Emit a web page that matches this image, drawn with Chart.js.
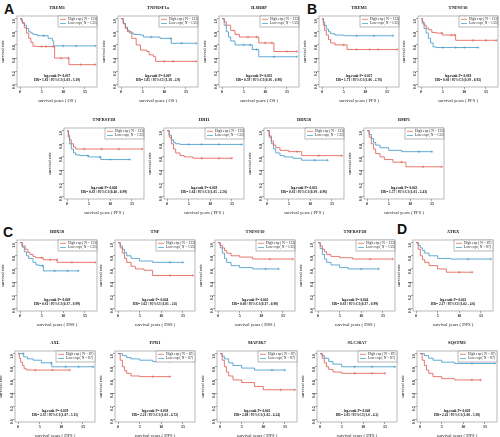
<!DOCTYPE html>
<html>
<head>
<meta charset="utf-8">
<script src="https://cdn.jsdelivr.net/npm/chart.js@4.4.1/dist/chart.umd.min.js"></script>
<style>
  body { margin: 0; background: #fff; width: 500px; height: 437px; position: relative; overflow: hidden; font-family: "Liberation Sans", Arial, sans-serif; }
  .tag { position: absolute; font-weight: bold; font-size: 14px; line-height: 1; color: #111; }
  canvas { position: absolute; }
</style>
</head>
<body>
<div class="tag" style="left:4px;top:2px">A</div>
<div class="tag" style="left:307px;top:2px">B</div>
<div class="tag" style="left:3px;top:225px">C</div>
<div class="tag" style="left:397px;top:222px">D</div>
<div id="wrap"></div>
<script>
// ---- data: [years, survival] steps (a repeated survival value = censored case)
const xTicks = [0, 5, 10, 15];
const yTicks = [0, 0.2, 0.4, 0.6, 0.8, 1.0];

// A (OS)
const trem1OsHigh = [[0,1],[0.5,0.93],[1,0.86],[1.5,0.78],[2,0.7],[2.5,0.64],[3,0.58],[4,0.575],[5,0.575],[6,0.575],[7.7,0.575],[8,0.4],[9.5,0.4],[11.2,0.4],[11.3,0.3],[14,0.3],[17.4,0.3]];
const trem1OsLow = [[0,1],[0.3,0.97],[0.6,0.94],[1,0.9],[1.5,0.85],[2,0.8],[2.5,0.78],[3,0.76],[4,0.74],[5.5,0.74],[6.5,0.7],[7.5,0.66],[7.8,0.585],[10,0.585],[13,0.585],[17.4,0.585]];
const tnfrsf1aOsHigh = [[0,1],[0.5,0.92],[1,0.85],[1.5,0.8],[2.5,0.7],[3.5,0.6],[4.5,0.52],[6,0.5],[6.5,0.45],[7.5,0.42],[8,0.35],[10,0.35],[12,0.35],[17.4,0.35]];
const tnfrsf1aOsLow = [[0,1],[0.5,0.93],[1,0.87],[1.5,0.82],[2,0.78],[3,0.76],[4.5,0.75],[5.2,0.72],[7,0.72],[9,0.7],[11.5,0.7],[11.6,0.625],[14,0.625],[17.4,0.625]];
const il6rbpOsHigh = [[0,1],[0.5,0.95],[1,0.9],[2,0.82],[3,0.76],[4,0.72],[6,0.72],[8,0.72],[8.5,0.63],[10,0.63],[11.5,0.63],[12,0.5],[15,0.5],[17.3,0.5]];
const il6rbpOsLow = [[0,1],[0.5,0.9],[1,0.8],[1.5,0.72],[2,0.66],[3,0.6],[5,0.6],[6.5,0.6],[7,0.53],[8,0.53],[8.5,0.42],[12,0.42],[17.3,0.42]];

// B (PFS)
const trem1PfsHigh = [[0,1],[0.3,0.9],[0.6,0.82],[1,0.75],[1.5,0.68],[2,0.63],[3,0.6],[5,0.6],[5.8,0.53],[8,0.53],[11,0.53],[13,0.53],[17.4,0.53]];
const trem1PfsLow = [[0,1],[0.3,0.95],[0.6,0.9],[1,0.84],[1.5,0.8],[2,0.77],[3,0.75],[5,0.74],[8,0.74],[12,0.74],[16.4,0.74]];
const tnfsf10PfsHigh = [[0,1],[0.3,0.95],[0.7,0.9],[1.2,0.86],[1.7,0.83],[2.5,0.79],[3.5,0.78],[4.8,0.78],[5,0.75],[7,0.75],[7.8,0.75],[8,0.67],[12,0.67],[15,0.67],[17.4,0.67]];
const tnfsf10PfsLow = [[0,1],[0.3,0.93],[0.7,0.85],[1.2,0.78],[1.7,0.7],[2.2,0.63],[2.8,0.57],[3.5,0.56],[5,0.56],[8,0.56],[10,0.56],[13.2,0.56]];
const tnfrsf1bPfsHigh = [[0,1],[0.3,0.93],[0.6,0.86],[1,0.8],[1.5,0.75],[2,0.72],[4,0.72],[8,0.72],[12,0.72],[17.4,0.72]];
const tnfrsf1bPfsLow = [[0,1],[0.3,0.9],[0.6,0.8],[1,0.72],[1.5,0.66],[2,0.63],[3,0.62],[4.8,0.62],[5,0.6],[7.6,0.6],[7.8,0.56],[10,0.56],[14.5,0.56]];
const idh1PfsHigh = [[0,1],[0.5,0.9],[1,0.8],[1.5,0.72],[2,0.66],[3,0.62],[4,0.6],[6,0.58],[8,0.58],[12,0.58],[15,0.58]];
const idh1PfsLow = [[0,1],[0.5,0.93],[1,0.86],[1.5,0.82],[2,0.8],[3,0.79],[5,0.79],[8,0.79],[12,0.79],[17.3,0.79]];
const ddx58PfsHigh = [[0,1],[0.5,0.92],[1,0.84],[1.5,0.78],[2,0.74],[3,0.7],[5,0.68],[7,0.68],[8,0.62],[12,0.62],[17.3,0.62]];
const ddx58PfsLow = [[0,1],[0.5,0.9],[1,0.8],[1.5,0.72],[2,0.66],[3,0.62],[4,0.6],[6,0.58],[8,0.55],[11,0.55],[14,0.55]];
const bmp1PfsHigh = [[0,1],[0.5,0.9],[1,0.8],[1.5,0.72],[2,0.65],[3,0.6],[4,0.56],[6,0.52],[8,0.52],[9,0.45],[13,0.45],[17.3,0.45]];
const bmp1PfsLow = [[0,1],[0.5,0.94],[1,0.88],[1.5,0.82],[2,0.78],[3,0.74],[5,0.7],[8,0.68],[12,0.68],[15,0.68]];

// C (DSS)
const ddx58DssHigh = [[0,1],[0.5,0.95],[1.2,0.9],[1.8,0.85],[2.3,0.82],[3,0.79],[3.5,0.77],[5,0.77],[5.4,0.74],[7,0.74],[8.5,0.74],[8.6,0.7],[12,0.7],[17.4,0.7]];
const ddx58DssLow = [[0,1],[0.5,0.93],[1,0.86],[1.5,0.8],[2,0.76],[3,0.7],[3.7,0.66],[4.5,0.65],[5.2,0.65],[5.4,0.57],[8,0.57],[11,0.57],[13.5,0.57]];
const tnfDssHigh = [[0,1],[0.5,0.92],[1,0.84],[1.5,0.76],[2,0.7],[3,0.64],[4,0.6],[6,0.58],[8,0.5],[12,0.5],[17.3,0.5]];
const tnfDssLow = [[0,1],[0.5,0.95],[1,0.9],[1.5,0.85],[2,0.8],[3,0.76],[5,0.72],[8,0.7],[12,0.7],[15,0.7]];
const tnfsf10DssHigh = [[0,1],[0.5,0.96],[1,0.92],[1.5,0.88],[2,0.84],[3,0.8],[5,0.78],[8,0.75],[12,0.75],[17.3,0.75]];
const tnfsf10DssLow = [[0,1],[0.5,0.92],[1,0.84],[1.5,0.76],[2,0.7],[3,0.65],[5,0.62],[8,0.6],[11,0.6],[14,0.6]];
const tnfrsf1bDssHigh = [[0,1],[0.5,0.95],[1,0.9],[1.5,0.86],[2,0.82],[3,0.79],[5,0.77],[8,0.75],[12,0.75],[17.3,0.75]];
const tnfrsf1bDssLow = [[0,1],[0.5,0.91],[1,0.82],[1.5,0.75],[2,0.7],[3,0.66],[5,0.62],[7,0.6],[10,0.6],[14,0.6]];

// D (DFS)
const atrxDfsHigh = [[0,1],[0.5,0.9],[1,0.8],[1.5,0.74],[2,0.7],[3,0.65],[5,0.6],[7,0.55],[10,0.55],[13,0.55]];
const atrxDfsLow = [[0,1],[0.5,0.96],[1,0.92],[1.5,0.88],[2,0.84],[3,0.8],[5,0.76],[8,0.75],[12,0.75],[17.3,0.75]];
const axlDfsHigh = [[0,1],[0.3,0.93],[0.6,0.87],[1,0.82],[1.4,0.77],[2,0.75],[4,0.75],[8,0.75],[12,0.75]];
const axlDfsLow = [[0,1],[1.2,1],[1.3,0.95],[2.2,0.92],[3.5,0.9],[5.4,0.86],[7.7,0.86],[7.8,0.8],[11,0.8],[14,0.8],[17.4,0.8]];
const fpr1DfsHigh = [[0,1],[0.5,0.9],[1,0.8],[1.5,0.74],[2,0.7],[3,0.66],[5,0.65],[8,0.65],[12,0.65]];
const fpr1DfsLow = [[0,1],[1,0.97],[2,0.94],[3,0.92],[5,0.9],[8,0.88],[12,0.88],[17.3,0.88]];
const map3k7DfsHigh = [[0,1],[0.5,0.9],[1,0.8],[1.5,0.72],[2,0.66],[3,0.6],[5,0.56],[8,0.5],[10,0.45],[14,0.45],[17.3,0.45]];
const map3k7DfsLow = [[0,1],[0.5,0.96],[1,0.92],[2,0.86],[3,0.82],[5,0.78],[8,0.75],[12,0.75],[15,0.75]];
const slc38a7DfsHigh = [[0,1],[0.5,0.93],[1,0.86],[1.5,0.8],[2,0.76],[3,0.72],[5,0.7],[8,0.7],[12,0.7],[15,0.7]];
const slc38a7DfsLow = [[0,1],[0.5,0.97],[1,0.93],[2,0.88],[3,0.84],[5,0.8],[8,0.8],[12,0.8],[17.3,0.8]];
const sqstm1DfsHigh = [[0,1],[0.5,0.9],[1,0.82],[1.5,0.75],[2,0.7],[3,0.65],[5,0.62],[8,0.6],[12,0.6],[14,0.6]];
const sqstm1DfsLow = [[0,1],[1,0.97],[2,0.93],[3,0.9],[5,0.87],[8,0.85],[12,0.85],[17.3,0.85]];

const genes = ['TREM1','TNFRSF1a','IL6RBP','TREM1','TNFSF10',
  'TNFRSF1B','IDH1','DDX58','BMP1',
  'DDX58','TNF','TNFSF10','TNFRSF1B','ATRX',
  'AXL','FPR1','MAP3K7','SLC38A7','SQSTM1'];
const endpoints = ['OS','OS','OS','PFS','PFS','PFS','PFS','PFS','PFS',
  'DSS','DSS','DSS','DSS','DFS','DFS','DFS','DFS','DFS','DFS'];
const groupN = [133,133,133,133,133,133,133,133,133,133,133,133,133,87,87,87,87,87,87];
const highSeries = [trem1OsHigh,tnfrsf1aOsHigh,il6rbpOsHigh,trem1PfsHigh,tnfsf10PfsHigh,
  tnfrsf1bPfsHigh,idh1PfsHigh,ddx58PfsHigh,bmp1PfsHigh,
  ddx58DssHigh,tnfDssHigh,tnfsf10DssHigh,tnfrsf1bDssHigh,atrxDfsHigh,
  axlDfsHigh,fpr1DfsHigh,map3k7DfsHigh,slc38a7DfsHigh,sqstm1DfsHigh];
const lowSeries = [trem1OsLow,tnfrsf1aOsLow,il6rbpOsLow,trem1PfsLow,tnfsf10PfsLow,
  tnfrsf1bPfsLow,idh1PfsLow,ddx58PfsLow,bmp1PfsLow,
  ddx58DssLow,tnfDssLow,tnfsf10DssLow,tnfrsf1bDssLow,atrxDfsLow,
  axlDfsLow,fpr1DfsLow,map3k7DfsLow,slc38a7DfsLow,sqstm1DfsLow];
const pValues = ['0.037','0.007','0.032','0.027','0.018','0.040','0.028','0.032','0.043',
  '0.049','0.044','0.041','0.044','0.041','0.029','0.038','0.041','0.048','0.028'];
const hrTexts = ['1.81 / 95%CI (1.03 - 3.19)','1.85 / 95%CI (1.18 - 2.9)','0.59 / 95%CI (0.36 - 0.98)',
  '1.71 / 95%CI (1.06 - 2.76)','0.60 / 95%CI (0.39 - 0.92)',
  '0.63 / 95%CI (0.40 - 0.99)','1.64 / 95%CI (1.05 - 2.56)','0.61 / 95%CI (0.39 - 0.96)','1.57 / 95%CI (1.01 - 2.43)',
  '0.61 / 95%CI (0.37 - 0.99)','1.62 / 95%CI (1.01 - 2.6)','0.60 / 95%CI (0.37 - 0.98)','0.61 / 95%CI (0.37 - 0.99)','2.17 / 95%CI (1.02 - 4.6)',
  '2.35 / 95%CI (1.07 - 5.15)','2.21 / 95%CI (1.03 - 4.72)','2.08 / 95%CI (1.02 - 4.24)','2.05 / 95%CI (1.0 - 4.2)','2.41 / 95%CI (1.08 - 5.38)'];

// ---- layout (plot box top-left of each panel, px)
const plotW = 80, plotH = 71;
const panelPos = [[17,16],[118,16],[219,16],[319,16],[418,16],
  [64,128],[164,128],[264,128],[364,128],
  [17,240],[115,240],[215,240],[315,240],[413,240],
  [15,351],[115,351],[217,351],[317,351],[417,351]];

const RED = '#e0584a', BLUE = '#3b95cb';
const FONT = '"Liberation Serif", "DejaVu Serif", serif';
Chart.defaults.font.family = FONT;
Chart.defaults.color = '#222';

const isCensor = (arr, i) => i > 0 && arr[i][1] === arr[i - 1][1];

const kmExtras = {
  id: 'kmExtras',
  afterDraw(chart) {
    const { ctx, chartArea: a } = chart;
    const o = chart.options.plugins.kmExtras;
    ctx.save();
    ctx.strokeStyle = '#8a8a8a';
    ctx.lineWidth = 0.6;
    ctx.strokeRect(a.left, a.top, a.right - a.left, a.bottom - a.top);
    // title
    ctx.fillStyle = '#111';
    ctx.textAlign = 'center';
    ctx.textBaseline = 'middle';
    ctx.font = 'bold 4.5px ' + FONT;
    ctx.fillText(o.gene, (a.left + a.right) / 2, a.top - 8);
    // legend box
    const lw = 39, lh = 11, lx = a.right - lw, ly = a.top;
    ctx.fillStyle = '#fff';
    ctx.fillRect(lx, ly, lw, lh);
    ctx.strokeRect(lx, ly, lw, lh);
    ctx.textAlign = 'left';
    ctx.font = '3.6px ' + FONT;
    [[RED, 'High exp ( N = ' + o.n + ')'], [BLUE, 'Low exp ( N = ' + o.n + ')']].forEach(([c, t], k) => {
      const yy = ly + 3.3 + k * 4.2;
      ctx.strokeStyle = c;
      ctx.lineWidth = 0.7;
      ctx.beginPath(); ctx.moveTo(lx + 2, yy); ctx.lineTo(lx + 8, yy); ctx.stroke();
      ctx.fillStyle = '#222';
      ctx.fillText(t, lx + 10, yy);
    });
    // stats
    ctx.textAlign = 'center';
    ctx.fillStyle = '#111';
    ctx.font = 'bold 3.5px ' + FONT;
    const cx = (a.left + a.right) / 2;
    ctx.fillText('log-rank P= ' + o.p, cx, a.bottom - 11);
    ctx.fillText('HR= ' + o.hr, cx, a.bottom - 7);
    ctx.restore();
  }
};

const wrap = document.getElementById('wrap');

genes.forEach((gene, i) => {
  const [px, py] = panelPos[i];
  const cv = document.createElement('canvas');
  const W = 100, H = plotH + 13 + 17;
  cv.width = W; cv.height = H;
  cv.style.left = (px - 17) + 'px';
  cv.style.top = (py - 13) + 'px';
  cv.style.width = W + 'px';
  cv.style.height = H + 'px';
  wrap.appendChild(cv);

  const mk = (arr, color, label) => ({
    label,
    data: arr.map(([x, y]) => ({ x, y })),
    borderColor: color,
    backgroundColor: color,
    borderWidth: 0.8,
    stepped: true,
    fill: false,
    pointStyle: 'cross',
    pointBorderWidth: 0.5,
    pointBorderColor: color,
    pointRadius: (c) => isCensor(arr, c.dataIndex) ? 1.3 : 0,
    pointHoverRadius: 0
  });

  new Chart(cv.getContext('2d'), {
    type: 'line',
    data: { datasets: [mk(highSeries[i], RED, 'High exp'), mk(lowSeries[i], BLUE, 'Low exp')] },
    options: {
      responsive: false,
      animation: false,
      devicePixelRatio: 1,
      layout: { padding: { top: 13, right: 3, left: 0, bottom: 0 } },
      plugins: {
        legend: { display: false },
        tooltip: { enabled: false },
        kmExtras: { gene, n: groupN[i], p: pValues[i], hr: hrTexts[i] }
      },
      scales: {
        x: {
          type: 'linear', min: -0.7, max: 17.8,
          afterBuildTicks: (s) => { s.ticks = xTicks.map(v => ({ value: v })); },
          afterFit: (s) => { s.height = 17; },
          grid: { display: true, drawOnChartArea: false, tickLength: 2, color: '#444', lineWidth: 0.5 },
          border: { display: false },
          ticks: { font: { size: 4, weight: 'bold' }, padding: 1, maxRotation: 0, callback: (v) => v },
          title: { display: true, text: 'survival years ( ' + endpoints[i] + ' )', font: { size: 4.6 }, padding: { top: 1, bottom: 0 } }
        },
        y: {
          min: -0.04, max: 1.04,
          afterBuildTicks: (s) => { s.ticks = yTicks.map(v => ({ value: v })); },
          afterFit: (s) => { s.width = 17; },
          grid: { display: true, drawOnChartArea: false, tickLength: 2, color: '#444', lineWidth: 0.5 },
          border: { display: false },
          ticks: { font: { size: 4, weight: 'bold' }, padding: 1, minRotation: 90, maxRotation: 90, callback: (v) => v.toFixed(1) },
          title: { display: true, text: 'survival rate', font: { size: 4.6 }, padding: { top: 0, bottom: 1 } }
        }
      }
    },
    plugins: [kmExtras]
  });
});
</script>
</body>
</html>
